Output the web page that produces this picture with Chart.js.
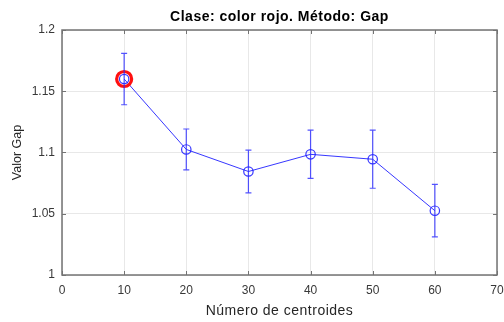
<!DOCTYPE html>
<html>
<head>
<meta charset="utf-8">
<script src="https://cdn.jsdelivr.net/npm/chart.js@4/dist/chart.umd.min.js"></script>
<style>
  html, body { margin: 0; padding: 0; background: #fff; }
  #wrap { width: 504px; height: 322px; }
</style>
</head>
<body>
<div id="wrap"><canvas id="c" width="504" height="322"></canvas></div>
<script>
// Gap statistic per number of centroids, with its standard error
const centroides = [10, 20, 30, 40, 50, 60];
const valorGap = [1.160, 1.1025, 1.0845, 1.0985, 1.0945, 1.0525];
const errorGap = [0.021, 0.0167, 0.0175, 0.0197, 0.0237, 0.0214];

// Chosen number of centroids (highlighted)
const elegidoX = [10];
const elegidoY = [1.160];

const xTicks = [0, 10, 20, 30, 40, 50, 60, 70];
const yTicks = [1, 1.05, 1.1, 1.15, 1.2];

const titulo = 'Clase: color rojo. Método: Gap';
const ejeX = 'Número de centroides';
const ejeY = 'Valor Gap';

const FONT = '"Liberation Sans", Arial, Helvetica, sans-serif';
const AXIS_COLOR = '#737373';
const BLUE = 'rgba(20,20,255,0.85)';

// Vertical error bars with caps, drawn through the scales
const errorBars = {
  id: 'errorBars',
  afterDatasetsDraw(chart) {
    const { ctx, scales: { x, y } } = chart;
    ctx.save();
    ctx.strokeStyle = 'rgba(40,40,255,0.8)';
    ctx.lineWidth = 1.2;
    centroides.forEach((c, i) => {
      const px = x.getPixelForValue(c);
      const top = y.getPixelForValue(valorGap[i] + errorGap[i]);
      const bot = y.getPixelForValue(valorGap[i] - errorGap[i]);
      ctx.beginPath();
      ctx.moveTo(px, top); ctx.lineTo(px, bot);
      ctx.moveTo(px - 3, top); ctx.lineTo(px + 3, top);
      ctx.moveTo(px - 3, bot); ctx.lineTo(px + 3, bot);
      ctx.stroke();
    });
    ctx.restore();
  }
};

// Box around the axes, inward tick marks on all four sides, title and x label
const axesBox = {
  id: 'axesBox',
  afterDraw(chart) {
    const { ctx, chartArea: a, scales: { x, y } } = chart;
    ctx.save();
    ctx.strokeStyle = AXIS_COLOR;
    ctx.lineWidth = 1.5;
    ctx.strokeRect(a.left, a.top, a.right - a.left, a.bottom - a.top);
    ctx.lineWidth = 1;
    ctx.beginPath();
    xTicks.forEach(v => {
      const px = Math.round(x.getPixelForValue(v)) + 0.5;
      ctx.moveTo(px, a.bottom); ctx.lineTo(px, a.bottom - 4);
      ctx.moveTo(px, a.top); ctx.lineTo(px, a.top + 4);
    });
    yTicks.forEach(v => {
      const py = Math.round(y.getPixelForValue(v)) + 0.5;
      ctx.moveTo(a.left, py); ctx.lineTo(a.left + 4, py);
      ctx.moveTo(a.right, py); ctx.lineTo(a.right - 4, py);
    });
    ctx.stroke();

    const cx = (a.left + a.right) / 2;
    ctx.textAlign = 'center';
    ctx.textBaseline = 'middle';
    ctx.fillStyle = '#000';
    ctx.font = 'bold 14px ' + FONT;
    ctx.letterSpacing = '0.5px';
    ctx.fillText(titulo, cx, 17);
    ctx.fillStyle = '#262626';
    ctx.font = '14px ' + FONT;
    ctx.fillText(ejeX, cx, 311);
    ctx.restore();
  }
};

new Chart(document.getElementById('c'), {
  type: 'scatter',
  data: {
    datasets: [
      {
        data: elegidoX.map((v, i) => ({ x: v, y: elegidoY[i] })),
        showLine: false,
        pointRadius: 7.5,
        pointBorderWidth: 3.2,
        pointBorderColor: '#ff1010',
        pointBackgroundColor: 'rgba(0,0,0,0)',
        order: 0
      },
      {
        data: centroides.map((v, i) => ({ x: v, y: valorGap[i] })),
        showLine: true,
        borderColor: BLUE,
        borderWidth: 1,
        pointRadius: 4.7,
        pointBorderWidth: 1.2,
        pointBorderColor: BLUE,
        pointBackgroundColor: 'rgba(0,0,0,0)',
        order: 1
      }
    ]
  },
  options: {
    responsive: false,
    animation: false,
    devicePixelRatio: 1,
    layout: { autoPadding: false, padding: { top: 30, right: 7, left: 0, bottom: 0 } },
    plugins: {
      legend: { display: false },
      tooltip: { enabled: false },
      title: { display: false }
    },
    scales: {
      x: {
        type: 'linear',
        min: 0, max: 70,
        afterFit(s) { s.height = 47; s.paddingLeft = 0; s.paddingRight = 0; },
        afterBuildTicks(s) { s.ticks = xTicks.map(v => ({ value: v })); },
        grid: { color: '#e8e8e8', lineWidth: 1, drawTicks: false },
        border: { display: false },
        ticks: {
          font: { family: FONT, size: 12 },
          color: '#383838',
          padding: 8,
          maxRotation: 0,
          callback: v => String(v)
        }
      },
      y: {
        type: 'linear',
        min: 1, max: 1.2,
        afterFit(s) { s.width = 62; s.paddingTop = 0; s.paddingBottom = 0; },
        afterBuildTicks(s) { s.ticks = yTicks.map(v => ({ value: v })); },
        grid: { color: '#e8e8e8', lineWidth: 1, drawTicks: false },
        border: { display: false },
        ticks: {
          font: { family: FONT, size: 12 },
          color: '#383838',
          padding: 7,
          callback: v => String(Math.round(v * 100) / 100)
        },
        title: {
          display: true,
          text: ejeY,
          font: { family: FONT, size: 12.5 },
          color: '#262626',
          padding: { top: 10, bottom: 0 }
        }
      }
    }
  },
  plugins: [errorBars, axesBox]
});
</script>
</body>
</html>
